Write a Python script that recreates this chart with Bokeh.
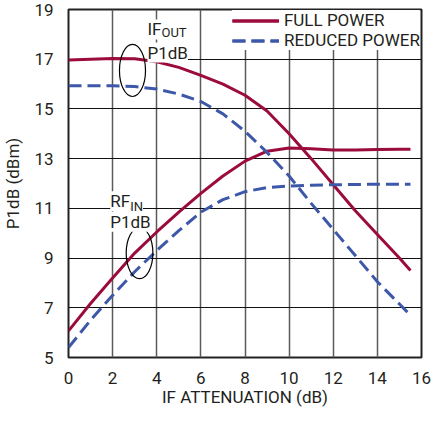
from bokeh.plotting import figure
from bokeh.models import Range1d, FixedTicker, Label, Legend, LegendItem
from bokeh.embed import file_html
from bokeh.resources import INLINE

# ---- data ----
atten = [0, 1, 2, 3, 4, 5, 6, 7, 8, 9, 10, 11, 12, 13, 14, 15, 15.5]
full_if_out = [16.97, 17.0, 17.03, 17.02, 16.9, 16.67, 16.35, 16.0, 15.55, 14.92, 14.0, 13.0, 11.95, 10.9, 9.95, 9.0, 8.5]
full_rf_in = [6.07, 7.17, 8.2, 9.2, 10.05, 10.85, 11.6, 12.3, 12.9, 13.3, 13.43, 13.4, 13.35, 13.35, 13.37, 13.38, 13.38]
reduced_if_out = [15.93, 15.93, 15.93, 15.9, 15.8, 15.6, 15.3, 14.8, 14.1, 13.25, 12.3, 11.2, 10.15, 9.1, 8.05, 7.15, 6.7]
reduced_rf_in = [5.4, 6.5, 7.5, 8.45, 9.3, 10.1, 10.85, 11.35, 11.67, 11.84, 11.9, 11.93, 11.95, 11.96, 11.97, 11.97, 11.97]

x_ticks = [0, 2, 4, 6, 8, 10, 12, 14, 16]
y_ticks = [5, 7, 9, 11, 13, 15, 17, 19]
series_labels = ["FULL POWER", "REDUCED POWER"]

RED = "#9B0B3C"
BLUE = "#3D58A8"
FONT = "Roboto"
TXT = "#231F20"

p = figure(frame_width=353, frame_height=348, output_backend="svg", toolbar_location=None,
           x_range=Range1d(0, 16), y_range=Range1d(5, 19),
           min_border_left=61, min_border_right=18, min_border_top=9, min_border_bottom=48)

p.xaxis.ticker = FixedTicker(ticks=x_ticks)
p.yaxis.ticker = FixedTicker(ticks=y_ticks)
p.xaxis.axis_label = "IF ATTENUATION (dB)"
p.yaxis.axis_label = "P1dB (dBm)"
for ax in p.axis:
    ax.major_label_text_font = FONT
    ax.major_label_text_font_size = "17px"
    ax.major_label_text_color = TXT
    ax.axis_label_text_font = FONT
    ax.axis_label_text_font_size = "17px"
    ax.axis_label_text_font_style = "normal"
    ax.axis_label_text_color = TXT
    ax.major_tick_line_color = None
    ax.minor_tick_line_color = None
    ax.axis_line_color = None
p.xaxis.major_label_standoff = 8
p.xaxis.axis_label_standoff = 0
p.yaxis.major_label_standoff = 9
p.yaxis.axis_label_standoff = 8

p.outline_line_color = "#222222"
p.outline_line_width = 2
p.xgrid.grid_line_color = "#5A5A5A"
p.xgrid.grid_line_width = 1.5
p.ygrid.grid_line_color = "#111111"
p.ygrid.grid_line_width = 1.2

r1 = p.line(atten, full_if_out, line_color=RED, line_width=3)
r2 = p.line(atten, full_rf_in, line_color=RED, line_width=3)
r3 = p.line(atten, reduced_if_out, line_color=BLUE, line_width=3, line_dash="13 6")
r4 = p.line(atten, reduced_rf_in, line_color=BLUE, line_width=3, line_dash="13 6")

p.ellipse(x=[2.9, 3.22], y=[16.55, 9.2], width=[1.18, 1.21], height=[2.10, 2.06],
          fill_color=None, line_color="black", line_width=1.2)

def lab(x, y, text, size="17px", dx=0):
    p.add_layout(Label(x=x, y=y, text=text, text_font=FONT, text_font_size=size,
                       text_color=TXT, text_baseline="alphabetic", x_offset=dx,
                       background_fill_color="white", background_fill_alpha=1.0))

lab(3.58, 18.2, "IF")
lab(3.58, 18.07, "OUT", "13px", 14)
lab(3.58, 17.27, "P1dB")
lab(1.89, 11.29, "RF")
lab(1.89, 11.09, "IN", "13px", 20)
lab(1.89, 10.46, "P1dB")

legend = Legend(items=[LegendItem(label=series_labels[0], renderers=[r1, r2]),
                       LegendItem(label=series_labels[1], renderers=[r3, r4])],
                location="top_right")
legend.label_text_font = FONT
legend.label_text_font_size = "17px"
legend.label_text_color = TXT
legend.glyph_width = 47
legend.glyph_height = 19
legend.label_height = 19
legend.label_standoff = 5
legend.spacing = 0
legend.padding = 8
legend.margin = 1
legend.border_line_color = None
legend.background_fill_color = "white"
legend.background_fill_alpha = 1.0
p.add_layout(legend)

open("out.html", "w").write(file_html(p, INLINE))
